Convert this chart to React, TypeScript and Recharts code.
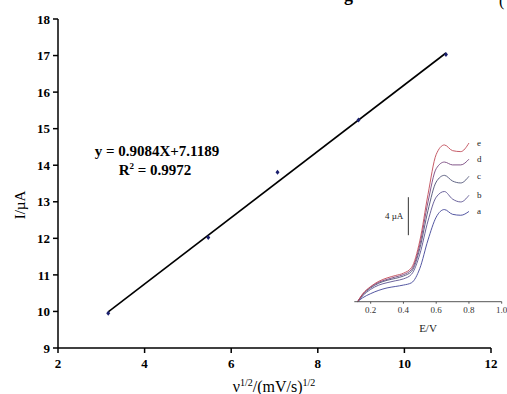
import {
  ComposedChart,
  Line,
  LineChart,
  ReferenceLine,
  Scatter,
  XAxis,
  YAxis,
} from 'recharts';

// main plot: peak current vs square root of scan rate
const sqrtScanRate = [3.16, 5.47, 7.07, 8.94, 10.96];
const peakCurrent = [9.95, 12.02, 13.81, 15.24, 17.03];
const trendX = [3.16, 10.96];
const trendY = [9.99, 17.07];
const xTicks = [2, 4, 6, 8, 10, 12];
const yTicks = [9, 10, 11, 12, 13, 14, 15, 16, 17, 18];

// inset voltammograms (E/V vs current, µA)
const potential = [0.12, 0.15, 0.2, 0.25, 0.3, 0.35, 0.4, 0.45, 0.5, 0.55, 0.6, 0.65, 0.7, 0.75, 0.8];
const curveA = [0, 0.4, 0.85, 1.2, 1.45, 1.6, 1.75, 2.0, 3.5, 6.5, 8.9, 9.7, 9.2, 9.1, 9.5];
const curveB = [0, 0.6, 1.3, 1.75, 2.0, 2.2, 2.4, 2.9, 5.0, 8.5, 11.0, 11.6, 10.8, 10.5, 11.2];
const curveC = [0, 0.7, 1.45, 1.95, 2.25, 2.45, 2.7, 3.2, 5.6, 9.6, 12.6, 13.3, 12.7, 12.5, 13.2];
const curveD = [0, 0.75, 1.55, 2.05, 2.35, 2.6, 2.85, 3.4, 6.0, 10.5, 14.0, 14.7, 14.4, 14.4, 15.0];
const curveE = [0, 0.8, 1.6, 2.15, 2.5, 2.75, 3.0, 3.6, 6.4, 11.3, 15.5, 16.5, 15.9, 15.8, 16.7];
const insetTicks = [0.2, 0.4, 0.6, 0.8, 1.0];

const points = sqrtScanRate.map((x, i) => ({ x, y: peakCurrent[i] }));
const trend = trendX.map((x, i) => ({ x, y: trendY[i] }));
const insetData = potential.map((e, i) => ({
  e,
  a: curveA[i],
  b: curveB[i],
  c: curveC[i],
  d: curveD[i],
  f: curveE[i],
}));

const curves = [
  { key: 'a', label: 'a', color: '#3f4396' },
  { key: 'b', label: 'b', color: '#5a5190' },
  { key: 'c', label: 'c', color: '#4d5175' },
  { key: 'd', label: 'd', color: '#76457e' },
  { key: 'f', label: 'e', color: '#bf4a57' },
];

const serif = '"Liberation Serif", "Times New Roman", serif';
const tickStyle = { fontFamily: serif, fontSize: 13, fontWeight: 'bold', fill: '#000' };

function Diamond(props: any) {
  const { cx, cy } = props;
  return <path d={`M${cx},${cy - 2.5}L${cx + 2},${cy}L${cx},${cy + 2.5}L${cx - 2},${cy}Z`} fill="#1a1f6e" />;
}

function EndLabel(text: string) {
  return (props: any) => {
    const { x, y, index } = props;
    if (index !== potential.length - 1) return null;
    return (
      <text x={x + 8} y={y} dy={3} fontSize={9} fontFamily={serif} fill="#222">
        {text}
      </text>
    );
  };
}

export default function App() {
  return (
    <div style={{ position: 'absolute', left: 0, top: 0, width: 507, height: 394, background: '#fff' }}>
      <ComposedChart
        width={507}
        height={394}
        margin={{ top: 19, right: 16, bottom: 16, left: 18 }}
        style={{ position: 'absolute', left: 0, top: 0 }}
      >
        <XAxis
          dataKey="x"
          type="number"
          domain={[2, 12]}
          ticks={xTicks}
          height={30}
          tick={tickStyle}
          tickSize={5}
          tickMargin={6}
          stroke="#000"
          strokeWidth={1.5}
          allowDataOverflow
        />
        <YAxis
          dataKey="y"
          type="number"
          domain={[9, 18]}
          ticks={yTicks}
          width={40}
          tick={tickStyle}
          tickSize={5}
          tickMargin={3}
          stroke="#000"
          strokeWidth={1.5}
          allowDataOverflow
        />
        <Line
          data={trend}
          dataKey="y"
          type="linear"
          stroke="#000"
          strokeWidth={1.6}
          dot={false}
          activeDot={false}
          isAnimationActive={false}
        />
        <Scatter data={points} dataKey="y" shape={Diamond} isAnimationActive={false} />
      </ComposedChart>

      <LineChart
        width={180}
        height={220}
        data={insetData}
        margin={{ top: 10.7, right: 8.3, bottom: 8.3, left: 24.3 }}
        style={{ position: 'absolute', left: 330, top: 120 }}
      >
        <XAxis
          dataKey="e"
          type="number"
          domain={[0.1, 1.0]}
          ticks={insetTicks}
          tickFormatter={(v: number) => v.toFixed(1)}
          height={30}
          tick={{ fontFamily: serif, fontSize: 9, fill: '#333' }}
          tickSize={2}
          tickMargin={3}
          stroke="#555"
          label={{ value: 'E/V', position: 'insideBottom', offset: 0, style: { fontFamily: serif, fontSize: 11, fill: '#222' } }}
        />
        <YAxis type="number" domain={[0, 18]} hide />
        <ReferenceLine
          segment={[
            { x: 0.43, y: 7 },
            { x: 0.43, y: 11 },
          ]}
          stroke="#333"
          strokeWidth={1}
          label={{ value: '4 µA', position: 'left', style: { fontFamily: serif, fontSize: 9, fill: '#222' } }}
        />
        {curves.map((c) => (
          <Line
            key={c.key}
            dataKey={c.key}
            type="monotone"
            stroke={c.color}
            strokeWidth={0.9}
            dot={false}
            activeDot={false}
            label={EndLabel(c.label)}
            isAnimationActive={false}
          />
        ))}
      </LineChart>

      <svg width={507} height={394} style={{ position: 'absolute', left: 0, top: 0, pointerEvents: 'none' }}>
        <text x={344} y={1} fontFamily={serif} fontWeight="bold" fontSize={18} fill="#000">g</text>
        <text x={499} y={6} fontFamily={serif} fontSize={16} fill="#000">(</text>
        <text x={157} y={156} textAnchor="middle" fontFamily={serif} fontWeight="bold" fontSize={15} fill="#000">
          y = 0.9084X+7.1189
        </text>
        <text x={155} y={175} textAnchor="middle" fontFamily={serif} fontWeight="bold" fontSize={15} fill="#000">
          R<tspan dy={-6} fontSize={9}>2</tspan>
          <tspan dy={6}> = 0.9972</tspan>
        </text>
        <text
          x={20}
          y={205}
          transform="rotate(-90 20 205)"
          textAnchor="middle"
          dominantBaseline="central"
          fontFamily={serif}
          fontSize={15}
          fill="#000"
        >
          I/µA
        </text>
        <text x={274} y={392} textAnchor="middle" fontFamily={serif} fontSize={16} fill="#000">
          ν<tspan dy={-6} fontSize={10}>1/2</tspan>
          <tspan dy={6}>/(mV/s)</tspan>
          <tspan dy={-6} fontSize={10}>1/2</tspan>
        </text>
      </svg>
    </div>
  );
}
